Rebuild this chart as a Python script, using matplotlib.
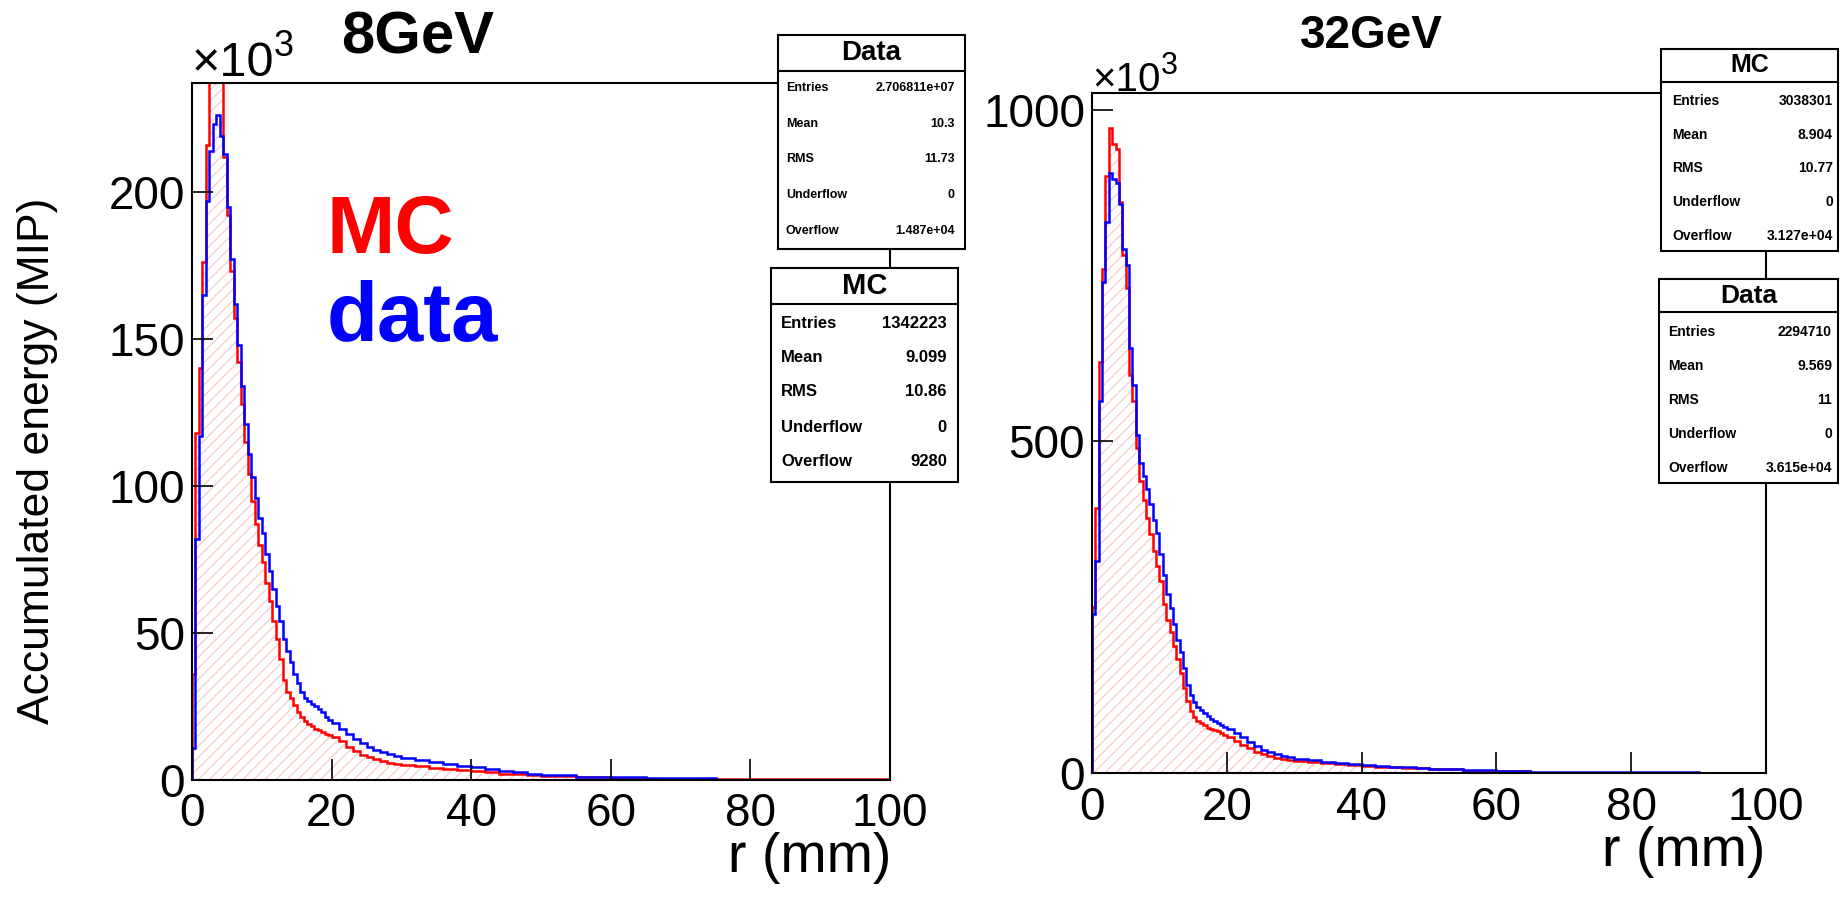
## -*- coding: utf-8 -*-
import numpy as np
import matplotlib.pyplot as plt
from matplotlib.patches import Rectangle

plt.rcParams['font.family'] = ['Liberation Sans', 'DejaVu Sans']
plt.rcParams['hatch.linewidth'] = 0.8

## Bin edges (mm): 0.5 mm up to 20, 1 mm up to 30, 2 mm up to 50, 5 mm up to 100
edges = np.concatenate([np.arange(0, 20, 0.5), np.arange(20, 30, 1.0),
                        np.arange(30, 50, 2.0), np.arange(50, 100.1, 5.0)])

## 8 GeV, accumulated energy in units of 10^3 MIP
mc_8 = [36, 118, 140, 176, 216, 238, 246, 248, 240, 212, 192, 173, 157, 142, 128, 115, 104, 95, 87, 80,
        74, 67, 61, 54, 48, 41, 34, 30, 28, 25.5, 23, 21.5, 20, 19, 18.2, 17.5, 17, 16.3, 15.8, 15.3,
        14.6, 13.2, 11.2, 9.8, 8.6, 7.7, 7.0, 6.4, 5.9, 5.5,
        5.0, 4.6, 4.2, 3.8, 3.4, 3.0, 2.6, 2.2, 1.9, 1.6,
        1.2, 0.9, 0.7, 0.5, 0.4, 0.35, 0.3, 0.3, 0.25, 0.25]
data_8 = [11, 82, 117, 165, 197, 214, 223, 226, 219, 213, 195, 177, 162, 148, 134, 121, 111, 103, 96, 89,
          84, 77, 71, 65, 59, 54, 48, 44, 40, 36, 33, 30, 28, 27, 26, 25, 24, 23, 21.5, 20.5,
          19.5, 17.5, 15.5, 14, 12.5, 11.2, 10.2, 9.4, 8.7, 8.1,
          7.4, 6.7, 6.0, 5.4, 4.8, 4.3, 3.7, 3.1, 2.6, 2.2,
          1.6, 1.1, 0.9, 0.8, 0.6, 0, 0, 0, 0, 0]

## 32 GeV
mc_32 = [250, 400, 620, 760, 900, 972, 948, 940, 860, 781, 731, 600, 560, 490, 440, 412, 385, 360, 335, 312,
         290, 255, 230, 212, 192, 172, 150, 128, 108, 93, 85, 79, 75, 72, 68, 66, 64.5, 63, 60, 57,
         54, 48, 42, 37, 32, 28, 25, 22, 20.5, 19.5,
         18, 16.5, 15, 13, 11.5, 10.5, 9.5, 8.5, 7.5, 6.8,
         5.5, 3.6, 2.5, 0, 0, 0, 0, 0, 0, 0]
data_32 = [240, 320, 560, 740, 830, 905, 895, 890, 857, 790, 765, 640, 585, 510, 468, 448, 428, 405, 382, 362,
           330, 298, 270, 248, 224, 200, 182, 158, 132, 118, 107, 100, 95, 90, 86, 82, 78, 75, 72, 69,
           66, 60, 54, 47, 41, 35, 31, 28, 25.5, 24,
           21, 19, 17, 15, 13, 12, 10.5, 9.5, 8.5, 7.5,
           6, 4, 2.8, 2, 1.6, 1.4, 1.2, 1.0, 0, 0]

stat_labels = ['Entries', 'Mean', 'RMS', 'Underflow', 'Overflow']
stats_8_data = ['2.706811e+07', '10.3', '11.73', '0', '1.487e+04']
stats_8_mc = ['1342223', '9.099', '10.86', '0', '9280']
stats_32_mc = ['3038301', '8.904', '10.77', '0', '3.127e+04']
stats_32_data = ['2294710', '9.569', '11', '0', '3.615e+04']

W, H = 1845, 909
fig = plt.figure(figsize=(W/100, H/100), dpi=100)


def px_axes(x0, y0, x1, y1):
    return fig.add_axes([x0/W, 1 - y1/H, (x1 - x0)/W, (y1 - y0)/H])


def draw_hist(ax, mc, data, ymax, yticks):
    ax.stairs(mc, edges, fill=True, facecolor='none', edgecolor='#f7c6c6',
              hatch='///', linewidth=0)
    ax.stairs(mc, edges, color='red', lw=1.8)
    ax.stairs(data, edges, color='blue', lw=1.8)
    ax.set_xlim(0, 100)
    ax.set_ylim(0, ymax)
    ax.set_xticks([0, 20, 40, 60, 80, 100])
    ax.set_yticks(yticks)
    ax.tick_params(direction='in', length=15, width=1.2, labelsize=33,
                   top=False, right=False)
    ax.tick_params(axis='x', pad=9)
    ax.tick_params(axis='y', pad=5)
    for s in ax.spines.values():
        s.set_linewidth(1.5)


ax1 = px_axes(192, 83, 890, 780)
draw_hist(ax1, mc_8, data_8, 237, [0, 50, 100, 150, 200])
ax2 = px_axes(1092, 93, 1766, 773)
draw_hist(ax2, mc_32, data_32, 1025, [0, 500, 1000])

## Overlay in pixel coordinates for boxes and titles
ov = fig.add_axes([0, 0, 1, 1], zorder=10)
ov.set_xlim(0, W)
ov.set_ylim(H, 0)
ov.axis('off')
ov.patch.set_alpha(0)


def stat_box(x0, y0, x1, y1, sep, title, title_y, title_size, rows_y, values,
             lab_x, val_x, row_size):
    ov.add_patch(Rectangle((x0, y0), x1 - x0, y1 - y0, facecolor='white',
                           edgecolor='black', lw=1.5))
    ov.plot([x0, x1], [sep, sep], color='black', lw=1.5)
    ov.text((x0 + x1)/2, title_y, title, ha='center', va='center',
            fontsize=title_size, fontweight='bold')
    for lab, val, y in zip(stat_labels, values, rows_y):
        ov.text(lab_x, y, lab, ha='left', va='center', fontsize=row_size, fontweight='bold')
        ov.text(val_x, y, val, ha='right', va='center', fontsize=row_size, fontweight='bold')


stat_box(778, 35, 965, 249, 71, 'Data', 53, 20, [88, 124, 159, 195, 231],
         stats_8_data, 786, 955, 9)
stat_box(771, 268, 958, 482, 304, 'MC', 286, 21, [323, 357, 392, 427, 462],
         stats_8_mc, 781, 947, 12)
stat_box(1661, 49, 1838, 251, 82, 'MC', 65, 18, [101, 135, 168, 202, 236],
         stats_32_mc, 1672, 1833, 10)
stat_box(1659, 279, 1838, 483, 312, 'Data', 296, 19, [332, 366, 400, 434, 468],
         stats_32_data, 1668, 1832, 10)

ov.text(418, 38, '8GeV', ha='center', va='center', fontsize=43, fontweight='bold')
ov.text(1371, 36, '32GeV', ha='center', va='center', fontsize=33, fontweight='bold')

## axis multipliers
ov.text(192, 76, '×10', ha='left', va='baseline', fontsize=35)
ov.text(274, 56, '3', ha='left', va='baseline', fontsize=26)
ov.text(1092, 91, '×10', ha='left', va='baseline', fontsize=29)
ov.text(1161, 74, '3', ha='left', va='baseline', fontsize=22)

ov.text(327, 253, 'MC', ha='left', va='baseline', fontsize=59, fontweight='bold', color='#ff0000')
ov.text(327, 341, 'data', ha='left', va='baseline', fontsize=60, fontweight='bold', color='#0000ff')

ov.text(38, 461, 'Accumulated energy (MIP)', rotation=90, ha='center', va='center', fontsize=32)
ov.text(891, 858, 'r (mm)', ha='right', va='center', fontsize=40)
ov.text(1765, 852, 'r (mm)', ha='right', va='center', fontsize=40)

fig.savefig('out.png', dpi=100)
